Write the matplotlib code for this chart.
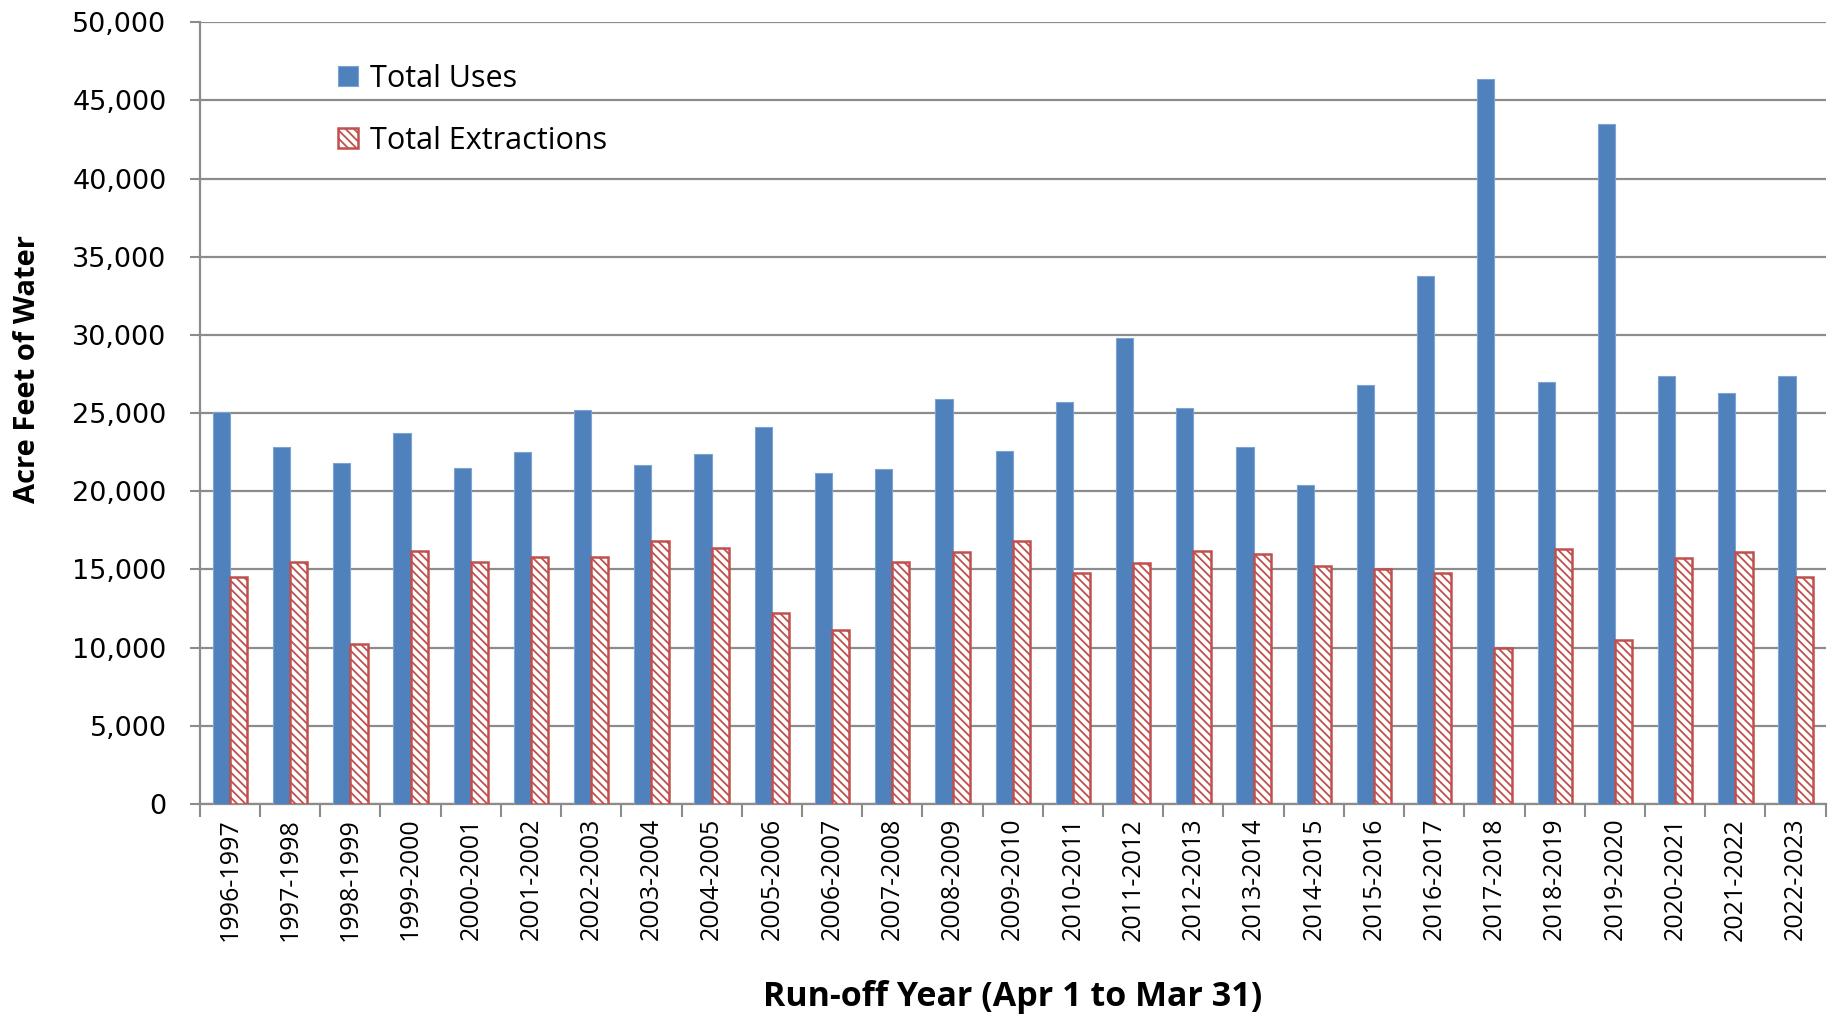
import matplotlib
matplotlib.use("Agg")
import matplotlib.pyplot as plt
import numpy as np
from matplotlib.ticker import FuncFormatter, MultipleLocator

years = ["1996-1997", "1997-1998", "1998-1999", "1999-2000", "2000-2001", "2001-2002",
         "2002-2003", "2003-2004", "2004-2005", "2005-2006", "2006-2007", "2007-2008",
         "2008-2009", "2009-2010", "2010-2011", "2011-2012", "2012-2013", "2013-2014",
         "2014-2015", "2015-2016", "2016-2017", "2017-2018", "2018-2019", "2019-2020",
         "2020-2021", "2021-2022", "2022-2023"]
total_uses = [25100, 22800, 21800, 23700, 21500, 22500, 25200, 21700, 22400, 24100,
              21200, 21400, 25900, 22600, 25700, 29800, 25300, 22800, 20400, 26800,
              33800, 46400, 27000, 43500, 27400, 26300, 27400]
total_extractions = [14500, 15500, 10200, 16200, 15500, 15800, 15800, 16800, 16400, 12200,
                     11100, 15500, 16100, 16800, 14800, 15400, 16200, 16000, 15200, 15000,
                     14800, 10000, 16300, 10500, 15700, 16100, 14500]

plt.rcParams['hatch.linewidth'] = 1.3
fig = plt.figure(figsize=(18.33, 10.15), dpi=100)
ax = fig.add_axes([0.109, 0.208, 0.887, 0.770])

x = np.arange(len(years))
w = 0.285
ax.bar(x - w / 2, total_uses, width=w, color="#4F81BD", edgecolor="#7FA3D0",
       linewidth=0.8, label="Total Uses", zorder=3)
ax.bar(x + w / 2, total_extractions, width=w, color="white", edgecolor="#C0504D",
       hatch="\\\\\\\\", linewidth=1.8, label="Total Extractions", zorder=3)

ax.set_xlim(-0.5, len(years) - 0.5)
ax.set_ylim(0, 50000)
ax.yaxis.set_major_locator(MultipleLocator(5000))
ax.yaxis.set_major_formatter(FuncFormatter(lambda v, p: f"{int(v):,}"))
ax.grid(axis="y", color="#8C8C8C", linewidth=1.6, zorder=0)
ax.set_axisbelow(True)

ax.set_xticks(x)
ax.set_xticklabels(years, rotation=90, fontsize=18, family=["Open Sans", "DejaVu Sans"])
ax.set_xticks(np.arange(len(years) + 1) - 0.5, minor=True)
ax.tick_params(axis="x", which="major", length=0, pad=10)
ax.tick_params(axis="x", which="minor", length=9, width=1.5, color="#8C8C8C")
ax.tick_params(axis="y", length=7, width=1.5, color="#8C8C8C", labelsize=19.5, pad=17)

for s in ["top", "right"]:
    ax.spines[s].set_visible(False)
for s in ["left", "bottom"]:
    ax.spines[s].set_color("#8C8C8C")
    ax.spines[s].set_linewidth(1.6)

ax.set_ylabel("Acre Feet of Water", fontsize=21, fontweight="bold",
              family=["Open Sans", "DejaVu Sans"])
ax.yaxis.set_label_coords(-0.097, 0.557)
ax.set_xlabel("Run-off Year (Apr 1 to Mar 31)", fontsize=24.5, fontweight="bold",
              family=["Open Sans", "DejaVu Sans"], labelpad=28)

leg = ax.legend(loc="upper left", bbox_to_anchor=(0.068, 0.982), frameon=False,
                prop={"family": "Open Sans", "size": 22}, handlelength=0.65,
                handleheight=0.65, labelspacing=1.05, handletextpad=0.4)

fig.savefig("out.png", dpi=100)
